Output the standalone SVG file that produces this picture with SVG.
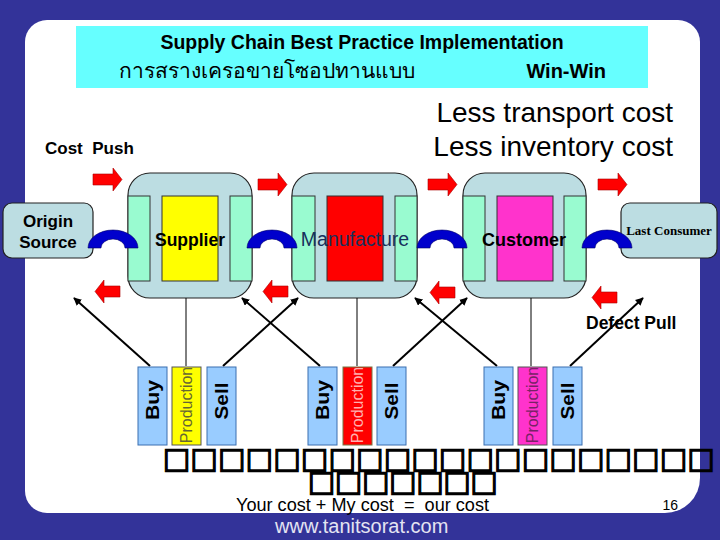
<svg xmlns="http://www.w3.org/2000/svg" width="720" height="540" viewBox="0 0 720 540">
<style>
.sans{font-family:"Liberation Sans",Arial,sans-serif}
.b{font-weight:bold}
.big{fill:#BCDDE2;stroke:#222;stroke-width:1.2}
.strip{fill:#99FBD0;stroke:#333;stroke-width:1}
.small{fill:#99CCFF;stroke:#3A6FB0;stroke-width:1}
.bridge{fill:#0000CC;stroke:#000066;stroke-width:0.6}
.red{fill:#FF0000;stroke:#AA0000;stroke-width:0.6}
.ln{stroke:#000;stroke-width:2;fill:none;marker-end:url(#ah)}
.vl{stroke:#000;stroke-width:1;fill:none}
.tofu{font-family:"DejaVu Sans",sans-serif;font-weight:bold;font-size:29px;fill:#000;stroke:#000;stroke-width:1.3}
</style>
<defs>
<marker id="ah" viewBox="0 0 10 10" refX="9" refY="5" markerWidth="8" markerHeight="8" markerUnits="userSpaceOnUse" orient="auto">
<path d="M0,0 L10,5 L0,10 Z" fill="#000"/>
</marker>
<path id="ra" d="M0,6 H20 V0 L29,11.5 L20,23 V17 H0 Z"/>
<path id="la" d="M0,11.5 L9,0 V6 H25 V17 H9 V23 Z"/>
</defs>

<rect x="0" y="0" width="720" height="540" fill="#333399"/>
<path d="M47,20 H678 A22,22 0 0 1 700,42 V478 A35,35 0 0 1 665,513 H47 A22,22 0 0 1 25,491 V42 A22,22 0 0 1 47,20 Z" fill="#FFFFFF"/>

<g id="title">
<rect x="76" y="26" width="572" height="62" fill="#66FFFF"/>
<text x="362" y="49" text-anchor="middle" class="sans b" font-size="19.5">Supply Chain Best Practice Implementation</text>
<text x="119" y="78" class="sans" font-size="21">การสรางเครอขายโซอปทานแบบ</text>
<text x="606" y="78" text-anchor="end" class="sans b" font-size="20">Win-Win</text>
</g>

<g id="notes">
<text x="673" y="122" text-anchor="end" class="sans" font-size="28">Less transport cost</text>
<text x="673" y="156" text-anchor="end" class="sans" font-size="28">Less inventory cost</text>
<text x="45" y="154" class="sans b" font-size="17" xml:space="preserve">Cost  Push</text>
<text x="586" y="329" class="sans b" font-size="17.5">Defect Pull</text>
</g>

<g id="flow-arrows">
<use href="#ra" x="93" y="168" class="red"/>
<use href="#ra" x="258" y="173" class="red"/>
<use href="#ra" x="428" y="173" class="red"/>
<use href="#ra" x="598" y="173" class="red"/>
<use href="#la" x="95" y="280" class="red"/>
<use href="#la" x="263" y="280" class="red"/>
<use href="#la" x="430" y="281" class="red"/>
<use href="#la" x="592" y="286" class="red"/>
</g>

<g id="origin-source">
<rect x="3" y="203" width="90" height="55" rx="9" class="big"/>
<text x="48" y="227" text-anchor="middle" class="sans b" font-size="17">Origin</text>
<text x="48" y="248" text-anchor="middle" class="sans b" font-size="17">Source</text>
</g>

<g id="supplier">
<rect x="128" y="173" width="124" height="125" rx="22" class="big"/>
<rect x="128" y="196" width="22" height="85" class="strip"/>
<rect x="162" y="196" width="56" height="85" fill="#FFFF00" stroke="#333" stroke-width="1"/>
<rect x="230" y="196" width="22" height="85" class="strip"/>
<text x="190" y="246" text-anchor="middle" class="sans b" font-size="17.5">Supplier</text>
</g>

<g id="manufacture">
<rect x="292" y="173" width="125" height="125" rx="22" class="big"/>
<rect x="292" y="196" width="23" height="85" class="strip"/>
<rect x="327" y="196" width="56" height="85" fill="#FF0000" stroke="#333" stroke-width="1"/>
<rect x="395" y="196" width="22" height="85" class="strip"/>
<text x="355" y="246" text-anchor="middle" class="sans" font-size="19.5" fill="#17305C">Manufacture</text>
</g>

<g id="customer">
<rect x="463" y="173" width="123" height="125" rx="22" class="big"/>
<rect x="463" y="196" width="22" height="85" class="strip"/>
<rect x="497" y="196" width="56" height="85" fill="#FF33CC" stroke="#333" stroke-width="1"/>
<rect x="564" y="196" width="22" height="85" class="strip"/>
<text x="524" y="246" text-anchor="middle" class="sans b" font-size="18">Customer</text>
</g>

<g id="last-consumer">
<rect x="621" y="203" width="96" height="55" rx="9" class="big"/>
<text x="669" y="235" text-anchor="middle" font-family="'Liberation Serif','Times New Roman',serif" font-weight="bold" font-size="13">Last Consumer</text>
</g>

<g id="bridges">
<path class="bridge" d="M88,248 A25,18 0 0 1 138,248 L125,248 A12,9 0 0 0 101,248 Z"/>
<path class="bridge" d="M247,248 A25,18 0 0 1 297,248 L284,248 A12,9 0 0 0 260,248 Z"/>
<path class="bridge" d="M417,248 A25,18 0 0 1 467,248 L454,248 A12,9 0 0 0 430,248 Z"/>
<path class="bridge" d="M582,248 A25,18 0 0 1 632,248 L619,248 A12,9 0 0 0 595,248 Z"/>
</g>

<g id="connectors">
<line class="ln" x1="150" y1="366" x2="74" y2="298"/>
<line class="vl" x1="186" y1="366" x2="186" y2="298"/>
<line class="ln" x1="223" y1="366" x2="298" y2="298"/>
<line class="ln" x1="320" y1="366" x2="242" y2="298"/>
<line class="vl" x1="357" y1="366" x2="357" y2="298"/>
<line class="ln" x1="393" y1="366" x2="467" y2="298"/>
<line class="ln" x1="497" y1="366" x2="415" y2="298"/>
<line class="vl" x1="531" y1="366" x2="531" y2="298"/>
<line class="ln" x1="570" y1="366" x2="643" y2="298"/>
</g>

<g id="supplier-functions">
<rect x="138" y="367" width="29" height="78" class="small"/>
<rect x="172" y="367" width="29" height="78" fill="#FFFF00" stroke="#555" stroke-width="1"/>
<rect x="207" y="367" width="29" height="78" class="small"/>
<text transform="translate(152.5,400) rotate(-90)" dy="6.5" text-anchor="middle" class="sans b" font-size="18" textLength="40" lengthAdjust="spacingAndGlyphs">Buy</text>
<text transform="translate(186.5,405) rotate(-90)" dy="5.5" text-anchor="middle" class="sans" font-size="16" fill="#666633">Production</text>
<text transform="translate(221.5,401) rotate(-90)" dy="6.5" text-anchor="middle" class="sans b" font-size="18" textLength="37" lengthAdjust="spacingAndGlyphs">Sell</text>
</g>

<g id="manufacture-functions">
<rect x="308" y="367" width="29" height="78" class="small"/>
<rect x="343" y="367" width="29" height="78" fill="#FF0000" stroke="#774" stroke-width="1"/>
<rect x="377" y="367" width="29" height="78" class="small"/>
<text transform="translate(322.5,400) rotate(-90)" dy="6.5" text-anchor="middle" class="sans b" font-size="18" textLength="40" lengthAdjust="spacingAndGlyphs">Buy</text>
<text transform="translate(357.5,405) rotate(-90)" dy="5.5" text-anchor="middle" class="sans" font-size="16" fill="#FFB0B0">Production</text>
<text transform="translate(391.5,401) rotate(-90)" dy="6.5" text-anchor="middle" class="sans b" font-size="18" textLength="37" lengthAdjust="spacingAndGlyphs">Sell</text>
</g>

<g id="customer-functions">
<rect x="484" y="367" width="29" height="78" class="small"/>
<rect x="518" y="367" width="29" height="78" fill="#FF33CC" stroke="#555" stroke-width="1"/>
<rect x="553" y="367" width="29" height="78" class="small"/>
<text transform="translate(498.5,400) rotate(-90)" dy="6.5" text-anchor="middle" class="sans b" font-size="18" textLength="40" lengthAdjust="spacingAndGlyphs">Buy</text>
<text transform="translate(532.5,405) rotate(-90)" dy="5.5" text-anchor="middle" class="sans" font-size="16" fill="#772266">Production</text>
<text transform="translate(567.5,401) rotate(-90)" dy="6.5" text-anchor="middle" class="sans b" font-size="18" textLength="37" lengthAdjust="spacingAndGlyphs">Sell</text>
</g>

<g id="footer">
<text x="163" y="468" class="tofu" textLength="552" lengthAdjust="spacing">□□□□□□□□□□□□□□□□□□□□</text>
<text x="308" y="491" class="tofu" textLength="190" lengthAdjust="spacing">□□□□□□□</text>
<text x="236" y="511" class="sans" font-size="18.5" textLength="253" lengthAdjust="spacingAndGlyphs" xml:space="preserve">Your cost + My cost  =  our cost</text>
<text x="678" y="510" text-anchor="end" class="sans" font-size="14">16</text>
<text x="275" y="533" class="sans" font-size="20" fill="#E4E4F2">www.tanitsorat.com</text>
</g>
</svg>
